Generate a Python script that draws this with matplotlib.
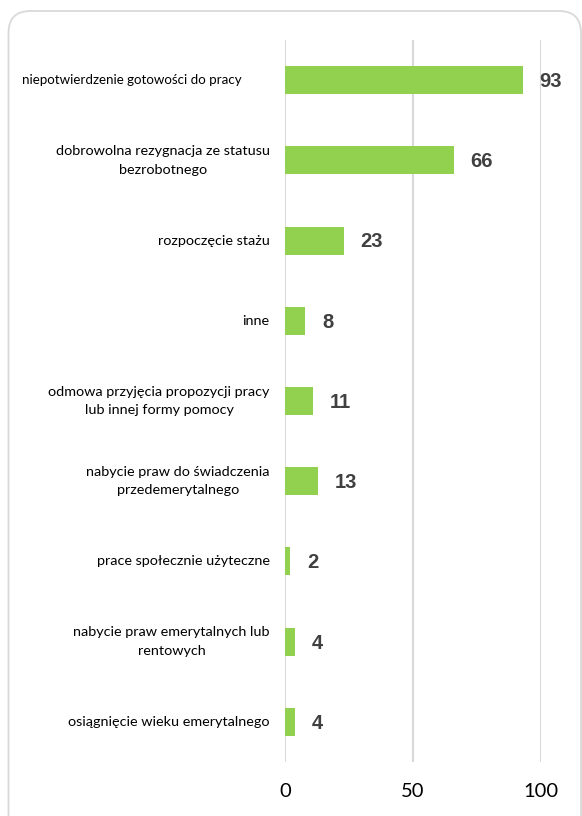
import matplotlib.pyplot as plt
from matplotlib.patches import FancyBboxPatch

CATEGORIES = [
    "niepotwierdzenie gotowości do pracy",
    "dobrowolna rezygnacja ze statusu\nbezrobotnego",
    "rozpoczęcie stażu",
    "inne",
    "odmowa przyjęcia propozycji pracy\nlub innej formy pomocy",
    "nabycie praw do świadczenia\nprzedemerytalnego",
    "prace społecznie użyteczne",
    "nabycie praw emerytalnych lub\nrentowych",
    "osiągnięcie wieku emerytalnego",
]
VALUES = [93, 66, 23, 8, 11, 13, 2, 4, 4]
X_TICKS = [0, 50, 100]

BAR_COLOR = "#92D050"
GRID_COLOR = "#D9D9D9"
LABEL_COLOR = "#404040"

fig = plt.figure(figsize=(5.82, 8.16), dpi=100)
ax = fig.add_axes([285 / 582, 54 / 816, 256 / 582, 722 / 816])

y = list(range(len(CATEGORIES)))
ax.barh(y, VALUES, height=0.35, color=BAR_COLOR, zorder=3)
ax.set_xlim(0, 100)
ax.set_ylim(len(CATEGORIES) - 0.5, -0.5)

ax.set_xticks(X_TICKS)
ax.set_xticklabels([str(t) for t in X_TICKS], family="Lato", fontsize=14.5, color="black")
ax.tick_params(axis="x", length=0, pad=15)
ax.set_yticks([])
ax.grid(axis="x", color=GRID_COLOR, linewidth=1.5, zorder=0)
for s in ax.spines.values():
    s.set_visible(False)

# category labels (first one sits further left and a bit tighter, as in the source)
for i, cat in enumerate(CATEGORIES):
    off, size = (-31, 9.6) if i == 0 else (-11, 10.4)
    ax.annotate(cat, xy=(0, i), xycoords=("axes fraction", "data"),
                xytext=(off, 0), textcoords="offset points",
                ha="right", va="center", multialignment="center",
                family="Lato", fontsize=size, color="black", linespacing=1.65)

# value labels
for i, v in enumerate(VALUES):
    ax.annotate(str(v), xy=(v, i), xytext=(12, -1), textcoords="offset points",
                ha="left", va="center", family="Liberation Sans",
                fontweight="bold", fontsize=14.5, color=LABEL_COLOR)

border = FancyBboxPatch((0.085, -0.3), 5.725, 8.35,
                        boxstyle="round,pad=0,rounding_size=0.22",
                        transform=fig.dpi_scale_trans, fill=False,
                        edgecolor=GRID_COLOR, linewidth=1.3, clip_on=False)
fig.patches.append(border)

fig.savefig("out.png", dpi=100)
